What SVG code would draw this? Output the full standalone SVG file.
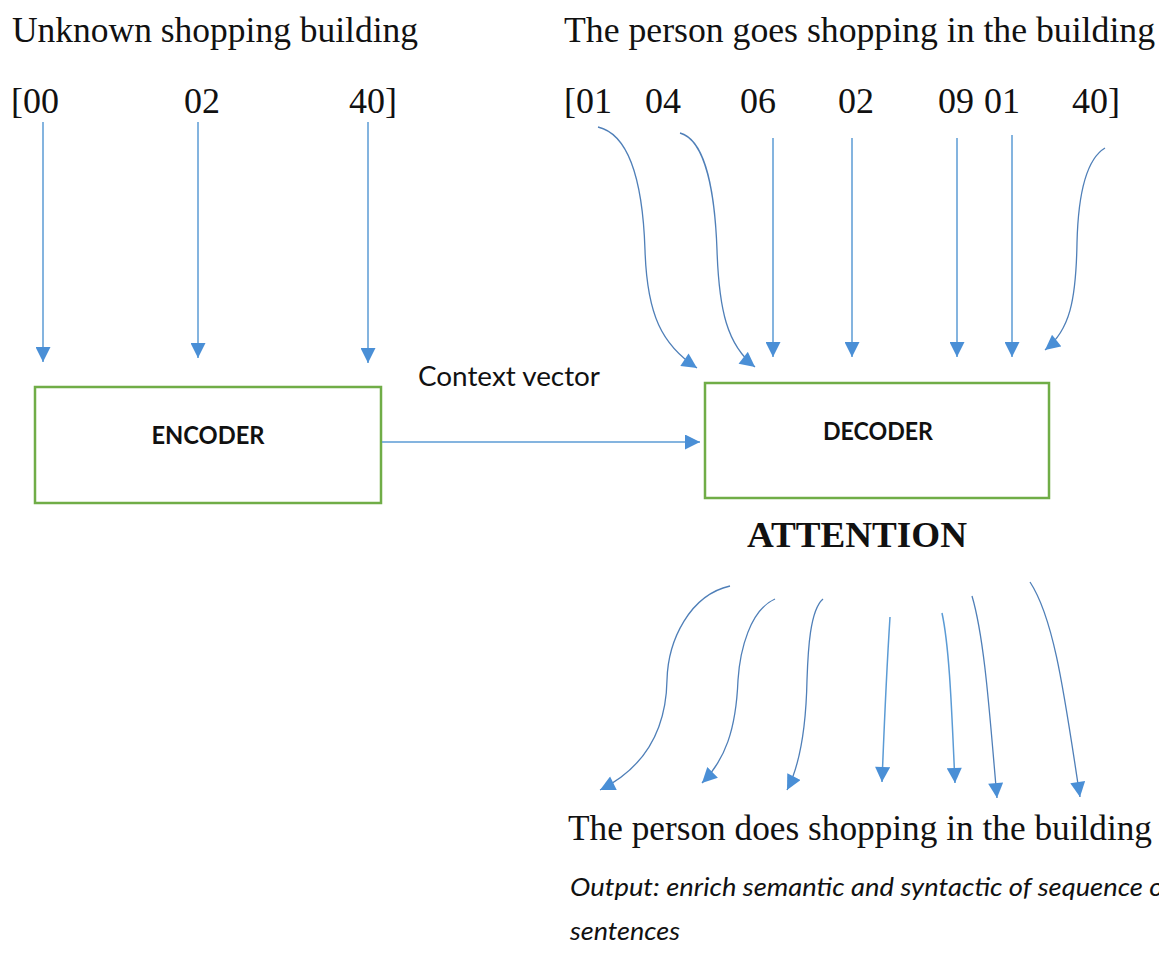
<svg xmlns="http://www.w3.org/2000/svg" width="1159" height="958" viewBox="0 0 1159 958">
<style>
.serif{font-family:"Liberation Serif","Times New Roman",serif;fill:#111;}
.big{font-size:36px;}
.sans{font-family:Lato,"Open Sans","Liberation Sans",sans-serif;fill:#111;}
.box{fill:#fff;stroke:#70AD47;stroke-width:2.5;}
.conn path{fill:none;stroke:#5B9BD5;stroke-width:1.5;marker-end:url(#ah);}
.conn path.c{stroke:#4F7FB8;stroke-width:1.3;}
</style>
<defs>
<marker id="ah" viewBox="0 0 10 10" refX="10" refY="5" markerUnits="userSpaceOnUse" markerWidth="16" markerHeight="15" orient="auto">
<path d="M0,0 L10,5 L0,10 z" fill="#4A8FD6"/>
</marker>
</defs>
<rect width="1159" height="958" fill="#fff"/>

<g id="input-text">
<text class="serif big" x="12" y="42" textLength="406" lengthAdjust="spacingAndGlyphs">Unknown shopping building</text>
<text class="serif big" x="11" y="113">[00</text>
<text class="serif big" x="184" y="113">02</text>
<text class="serif big" x="349" y="113">40]</text>
</g>

<g id="target-text">
<text class="serif big" x="564" y="42" textLength="591" lengthAdjust="spacingAndGlyphs">The person goes shopping in the building</text>
<text class="serif big" x="564" y="113">[01</text>
<text class="serif big" x="645" y="113">04</text>
<text class="serif big" x="740" y="113">06</text>
<text class="serif big" x="838" y="113">02</text>
<text class="serif big" x="938" y="113">09</text>
<text class="serif big" x="984" y="113">01</text>
<text class="serif big" x="1072" y="113">40]</text>
</g>

<g id="encoder">
<rect class="box" x="35" y="387" width="346" height="116"/>
<text class="sans" x="208" y="444" font-size="25" font-weight="bold" text-anchor="middle" textLength="113" lengthAdjust="spacingAndGlyphs">ENCODER</text>
</g>

<g id="decoder">
<rect class="box" x="705" y="383" width="344" height="115"/>
<text class="sans" x="878" y="440" font-size="25" font-weight="bold" text-anchor="middle" textLength="110" lengthAdjust="spacingAndGlyphs">DECODER</text>
</g>

<g id="attention">
<text class="serif" x="747" y="547" font-size="36" font-weight="bold" textLength="220" lengthAdjust="spacingAndGlyphs">ATTENTION</text>
</g>

<g id="context-label">
<text class="sans" x="418" y="386" font-size="26" textLength="182" lengthAdjust="spacingAndGlyphs">Context vector</text>
</g>

<g id="output-text">
<text class="serif" x="568" y="840" font-size="35" textLength="584" lengthAdjust="spacingAndGlyphs">The person does shopping in the building</text>
<text class="sans" x="570" y="896" font-size="25" font-style="italic" textLength="602" lengthAdjust="spacingAndGlyphs">Output: enrich semantic and syntactic of sequence of</text>
<text class="sans" x="570" y="940" font-size="25" font-style="italic" textLength="110" lengthAdjust="spacingAndGlyphs">sentences</text>
</g>

<g id="connectors" class="conn">
<path d="M43,122 L43,362"/>
<path d="M198,122 L198,358"/>
<path d="M368,122 L368,363"/>
<path d="M382,442 L700,442"/>
<path class="c" d="M598,127 C632,135 643,190 645,250 C647,315 662,345 697,368"/>
<path class="c" d="M680,133 C706,140 715,195 717,250 C719,310 727,345 755,367"/>
<path d="M773,138 L773,357"/>
<path d="M852,138 L852,357"/>
<path d="M957,138 L957,357"/>
<path d="M1012,135 L1012,357"/>
<path class="c" d="M1105,148 C1085,160 1078,200 1077,243 C1076,300 1070,330 1045,350"/>
<path class="c" d="M730,586 C690,595 668,640 667,680 C666,735 640,770 600,790"/>
<path class="c" d="M775,599 C750,610 740,650 738,680 C736,730 725,760 702,783"/>
<path class="c" d="M823,599 C810,610 808,650 807,680 C806,730 800,765 787,790"/>
<path d="M890,617 C886,680 884,730 882,782"/>
<path d="M942,613 C950,650 952,720 955,783"/>
<path class="c" d="M972,596 C985,640 990,720 997,798"/>
<path class="c" d="M1030,582 C1055,620 1065,700 1080,797"/>
</g>
</svg>
